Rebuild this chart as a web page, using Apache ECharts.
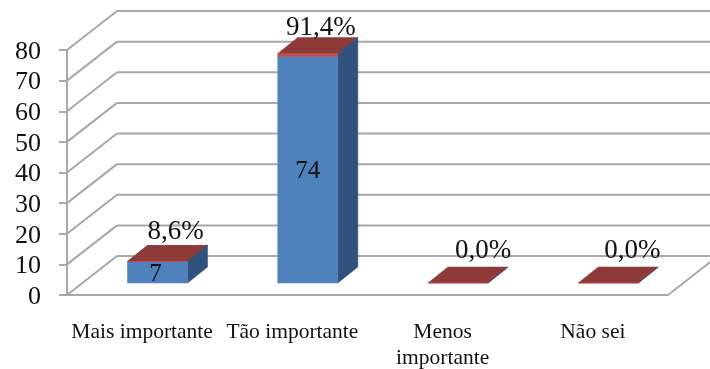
<!DOCTYPE html>
<html>
<head>
<meta charset="utf-8">
<style>html,body{margin:0;padding:0;background:#fff}#chart{width:710px;height:369px}</style>
<script src="https://cdn.jsdelivr.net/npm/echarts@6/dist/echarts.min.js"></script>
</head>
<body>
<div id="chart"></div>
<script>
// Answer categories, respondent counts and their shares of the total
const categories = ['Mais importante', 'Tão importante', 'Menos\nimportante', 'Não sei'];
const counts = [7, 74, 0, 0];
const shares = [0.086, 0.914, 0, 0];
const yTicks = [0, 10, 20, 30, 40, 50, 60, 70, 80];

// Pseudo-3D projection, in pixels
const WALL = { dx: 50, dy: -39 };      // front plane to back wall
const BAR_BASE = { dx: 15.4, dy: -12 }; // front plane to bar front
const BAR_DEPTH = { dx: 20, dy: -16 };  // bar front to bar back
const BAR_WIDTH_RATIO = 0.4;
// Hand placement of the percentage labels above each bar
const SHARE_LABEL_DX = [18, 13, 25, 24];
const SHARE_LABEL_DY = [-29, -26, -32, -32];
const SERIF = '"Liberation Serif", "Times New Roman", serif';
const GRID_COLOR = '#a8a8a8';

const poly = (points, fill) => ({
  type: 'polygon',
  shape: { points },
  style: { fill, stroke: fill, lineWidth: 0.5 }
});

function prism(left, right, bottom, top, colors) {
  const b = BAR_DEPTH;
  return [
    poly([[left, top], [right, top], [right + b.dx, top + b.dy], [left + b.dx, top + b.dy]], colors.top),
    poly([[right, bottom], [right + b.dx, bottom + b.dy], [right + b.dx, top + b.dy], [right, top]], colors.side),
    poly([[left, bottom], [right, bottom], [right, top], [left, top]], colors.front)
  ];
}

function renderWalls(params, api) {
  const v = api.value(1);
  const sys = params.coordSys;
  const y = api.coord([0, v])[1];
  const x0 = sys.x;
  const x1 = sys.x + sys.width;
  const line = (a, b, c, d) => ({
    type: 'line',
    shape: { x1: a, y1: b, x2: c, y2: d },
    style: { stroke: GRID_COLOR, lineWidth: 2, fill: null }
  });
  const children = [
    line(x0, y, x0 + WALL.dx, y + WALL.dy),
    line(x0 + WALL.dx, y + WALL.dy, x1 + WALL.dx, y + WALL.dy)
  ];
  if (v === 0) children.push(line(x1, y, x1 + WALL.dx, y + WALL.dy));
  return { type: 'group', children };
}

function renderBars(params, api) {
  const i = api.value(0);
  const count = api.value(1);
  const share = api.value(2);
  const half = api.size([1, 0])[0] * BAR_WIDTH_RATIO / 2;
  const base = api.coord([i, 0]);
  const cx = base[0] + BAR_BASE.dx;
  const bottom = base[1] + BAR_BASE.dy;
  const blueTop = api.coord([i, count])[1] + BAR_BASE.dy;
  const redTop = api.coord([i, count + share])[1] + BAR_BASE.dy;
  const children = [];
  if (count > 0) {
    children.push(...prism(cx - half, cx + half, bottom, blueTop, {
      front: '#4f81bd', side: '#30527c', top: '#4f81bd'
    }));
  }
  children.push(...prism(cx - half, cx + half, blueTop, redTop, {
    front: '#c0504d', side: '#30527c', top: '#8e3a38'
  }));
  if (count > 0) {
    children.push({
      type: 'text',
      style: {
        text: String(count), x: cx - 2 * (i === 0), y: (bottom + blueTop) / 2 + 2,
        font: '25px ' + SERIF, fill: '#111', align: 'center', verticalAlign: 'middle'
      }
    });
  }
  children.push({
    type: 'text',
    style: {
      text: (share * 100).toFixed(1).replace('.', ',') + '%',
      x: cx + SHARE_LABEL_DX[i], y: redTop + SHARE_LABEL_DY[i],
      font: '27px ' + SERIF, fill: '#111', align: 'center', verticalAlign: 'middle'
    }
  });
  return { type: 'group', children };
}

const chart = echarts.init(document.getElementById('chart'), null, { renderer: 'canvas' });
chart.setOption({
  animation: false,
  backgroundColor: '#fff',
  grid: { left: 67, top: 50, width: 601, height: 245, outerBoundsMode: 'none', containLabel: false },
  xAxis: {
    type: 'category',
    data: categories,
    axisLine: { lineStyle: { color: GRID_COLOR, width: 2 } },
    axisTick: { length: 8, lineStyle: { color: GRID_COLOR, width: 2 } },
    axisLabel: {
      interval: 0, margin: 24, color: '#111', fontFamily: SERIF,
      fontSize: 21.5, lineHeight: 26
    },
    splitLine: { show: false }
  },
  yAxis: {
    type: 'value', min: 0, max: 80, interval: 10,
    axisLine: { show: true, lineStyle: { color: GRID_COLOR, width: 2 } },
    axisTick: { show: true, length: 8, lineStyle: { color: GRID_COLOR, width: 2 } },
    axisLabel: {
      margin: 26, color: '#111', fontFamily: SERIF, fontSize: 26,
      verticalAlign: 'top', padding: [-11, 0, 0, 0]
    },
    splitLine: { show: false }
  },
  series: [
    {
      type: 'custom', name: 'walls', clip: false, z: 1, silent: true,
      renderItem: renderWalls,
      data: yTicks.map(v => [0, v])
    },
    {
      type: 'custom', name: 'bars', clip: false, z: 3, silent: true,
      renderItem: renderBars,
      encode: { x: 0, y: 1 },
      data: categories.map((c, i) => [i, counts[i], shares[i]])
    }
  ]
});
</script>
</body>
</html>
